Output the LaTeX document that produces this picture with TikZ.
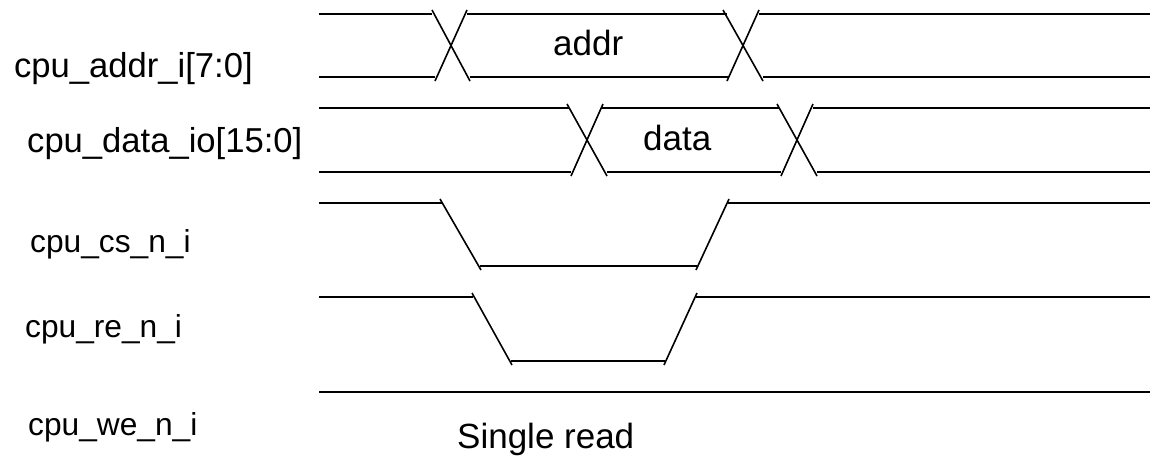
\documentclass[tikz,border=0pt]{standalone}
\usepackage{fontspec}
\setmainfont{Liberation Sans}
\begin{document}
\begin{tikzpicture}[x=1pt,y=-1pt,
  wave/.style={line width=1.6pt,black},
  siglabel/.style={anchor=base west,inner sep=0pt,font=\fontsize{31.7}{36}\selectfont},
  buslabel/.style={anchor=base west,inner sep=0pt,font=\fontsize{34.6}{40}\selectfont},
  vallabel/.style={anchor=base west,inner sep=0pt,font=\fontsize{35}{40}\selectfont}]
\useasboundingbox[fill=white] (0,0) rectangle (1154,459);
% labels
\node[buslabel] (laddr) at (14,77) {cpu\_addr\_i[7:0]};
\node[buslabel] (ldata) at (27,152) {cpu\_data\_io[15:0]};
\node[siglabel] (lcs) at (30,252) {cpu\_cs\_n\_i};
\node[siglabel] (lre) at (25,337) {cpu\_re\_n\_i};
\node[siglabel] (lwe) at (28,435) {cpu\_we\_n\_i};
\node[vallabel] (vaddr) at (553,55) {addr};
\node[vallabel] (vdata) at (643,150) {data};
\node[vallabel] (title) at (457,448) {Single read};
% address bus
\draw[wave] (319,14) -- (432,14);
\draw[wave] (467,14) -- (727,14);
\draw[wave] (759,14) -- (1150,14);
\draw[wave] (319,77) -- (435,77);
\draw[wave] (470,77) -- (729,77);
\draw[wave] (763,77) -- (1150,77);
\draw[wave] (432,10) -- (470,81);
\draw[wave] (435,81) -- (467,10);
\draw[wave] (723,10) -- (763,81);
\draw[wave] (727,81) -- (759,10);
% data bus
\draw[wave] (319,108) -- (569,108);
\draw[wave] (602,108) -- (779,108);
\draw[wave] (813,108) -- (1150,108);
\draw[wave] (319,172) -- (571,172);
\draw[wave] (607,172) -- (781,172);
\draw[wave] (817,172) -- (1150,172);
\draw[wave] (567,104) -- (607,176);
\draw[wave] (571,176) -- (603,104);
\draw[wave] (777,104) -- (817,176);
\draw[wave] (781,176) -- (813,104);
% cs
\draw[wave] (319,203) -- (442,203);
\draw[wave] (440,199) -- (481,270);
\draw[wave] (480,266) -- (697,266);
\draw[wave] (696,270) -- (729,199);
\draw[wave] (728,203) -- (1150,203);
% re
\draw[wave] (319,297) -- (473,297);
\draw[wave] (472,293) -- (512,365);
\draw[wave] (511,361) -- (665,361);
\draw[wave] (664,365) -- (697,293);
\draw[wave] (696,297) -- (1150,297);
% we
\draw[wave] (319,392) -- (1150,392);
\end{tikzpicture}
\end{document}
